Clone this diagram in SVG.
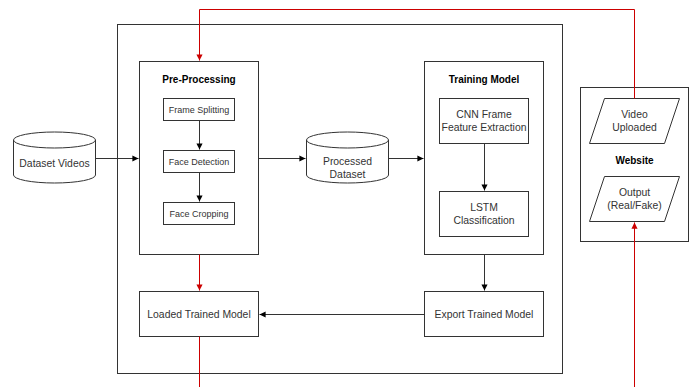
<svg xmlns="http://www.w3.org/2000/svg" width="695" height="387" viewBox="0 0 695 387">
  <style>
    .box { fill: #ffffff; stroke: #333333; stroke-width: 1; }
    .frame { fill: none; stroke: #333333; stroke-width: 1; }
    .t { font-family: "Liberation Sans", Arial, sans-serif; font-size: 10.4px; fill: #333333; text-anchor: middle; }
    .s { font-size: 9px; }
    .b { font-size: 10px; font-weight: bold; fill: #000000; }
    .edge { fill: none; stroke: #333333; stroke-width: 1; }
    .red { fill: none; stroke: #CC0000; stroke-width: 1; }
  </style>
  <defs>
    <marker id="arrow" viewBox="0 0 8 8" refX="7" refY="4" markerWidth="7" markerHeight="7" markerUnits="userSpaceOnUse" orient="auto">
      <path d="M0,0.5 L7,4 L0,7.5 Z" fill="#000000"/>
    </marker>
    <marker id="arrowRed" viewBox="0 0 8 8" refX="7" refY="4" markerWidth="7" markerHeight="7" markerUnits="userSpaceOnUse" orient="auto">
      <path d="M0,0.5 L7,4 L0,7.5 Z" fill="#CC0000"/>
    </marker>
  </defs>

  <rect width="695" height="387" fill="#ffffff"/>

  <!-- system boundary -->
  <g id="system">
    <rect class="frame" x="117.5" y="24.5" width="445" height="349"/>
  </g>

  <g id="dataset-videos">
    <path class="box" d="M13.5,140 A41,8 0 0 1 95.5,140 L95.5,175 A41,8 0 0 1 13.5,175 Z"/>
    <path class="frame" d="M13.5,140 A41,8 0 0 0 95.5,140"/>
    <text class="t" x="54.5" y="166.5">Dataset Videos</text>
  </g>

  <g id="pre-processing">
    <rect class="box" x="139.5" y="61.5" width="119" height="193"/>
    <text class="t b" x="199" y="83">Pre-Processing</text>
  </g>
  <g id="frame-splitting">
    <rect class="box" x="163.5" y="98.5" width="71" height="22"/>
    <text class="t s" x="199" y="112.5">Frame Splitting</text>
  </g>
  <g id="face-detection">
    <rect class="box" x="163.5" y="150.5" width="71" height="22"/>
    <text class="t s" x="199" y="164.5">Face Detection</text>
  </g>
  <g id="face-cropping">
    <rect class="box" x="163.5" y="202.5" width="71" height="22"/>
    <text class="t s" x="199" y="216.5">Face Cropping</text>
  </g>

  <g id="processed-dataset">
    <path class="box" d="M306.5,140 A41,8 0 0 1 388.5,140 L388.5,175 A41,8 0 0 1 306.5,175 Z"/>
    <path class="frame" d="M306.5,140 A41,8 0 0 0 388.5,140"/>
    <text class="t" x="347.5" y="165">Processed</text>
    <text class="t" x="347.5" y="178">Dataset</text>
  </g>

  <g id="training-model">
    <rect class="box" x="424.5" y="61.5" width="119" height="193"/>
    <text class="t b" x="484" y="83">Training Model</text>
  </g>
  <g id="cnn">
    <rect class="box" x="439.5" y="98.5" width="89" height="45"/>
    <text class="t" x="484" y="118">CNN Frame</text>
    <text class="t" x="484" y="131">Feature Extraction</text>
  </g>
  <g id="lstm">
    <rect class="box" x="439.5" y="191.5" width="89" height="45"/>
    <text class="t" x="484" y="211">LSTM</text>
    <text class="t" x="484" y="224">Classification</text>
  </g>

  <g id="export-model">
    <rect class="box" x="424.5" y="291.5" width="119" height="45"/>
    <text class="t" x="484" y="317.5">Export Trained Model</text>
  </g>
  <g id="loaded-model">
    <rect class="box" x="139.5" y="291.5" width="119" height="45"/>
    <text class="t" x="199" y="317.5">Loaded Trained Model</text>
  </g>

  <g id="website">
    <rect class="box" x="580.5" y="87.5" width="108" height="154"/>
    <text class="t b" x="634.5" y="163.5">Website</text>
  </g>
  <g id="video-uploaded">
    <path class="box" d="M604.5,98.5 L679.5,98.5 L664.5,143.5 L589.5,143.5 Z"/>
    <text class="t" x="634.5" y="118">Video</text>
    <text class="t" x="634.5" y="131">Uploaded</text>
  </g>
  <g id="output">
    <path class="box" d="M604.5,176.5 L679.5,176.5 L664.5,221.5 L589.5,221.5 Z"/>
    <text class="t" x="634.5" y="195.5">Output</text>
    <text class="t" x="634.5" y="208.5">(Real/Fake)</text>
  </g>

  <g id="connectors">
    <path class="edge" d="M95.5,158.5 H138.5" marker-end="url(#arrow)"/>
    <path class="edge" d="M199.5,120.5 V149.5" marker-end="url(#arrow)"/>
    <path class="edge" d="M199.5,172.5 V201.5" marker-end="url(#arrow)"/>
    <path class="edge" d="M258.5,158.5 H305.5" marker-end="url(#arrow)"/>
    <path class="edge" d="M388.5,158.5 H423.5" marker-end="url(#arrow)"/>
    <path class="edge" d="M484.5,143.5 V190.5" marker-end="url(#arrow)"/>
    <path class="edge" d="M484.5,254.5 V290.5" marker-end="url(#arrow)"/>
    <path class="edge" d="M424.5,314.5 H259.5" marker-end="url(#arrow)"/>
    <path class="red" d="M634.5,98.5 V9.5 H199.5 V60.5" marker-end="url(#arrowRed)"/>
    <path class="red" d="M199.5,254.5 V290.5" marker-end="url(#arrowRed)"/>
    <path class="red" d="M199.5,336.5 V387"/>
    <path class="red" d="M634.5,387 V222.5" marker-end="url(#arrowRed)"/>
  </g>
</svg>
